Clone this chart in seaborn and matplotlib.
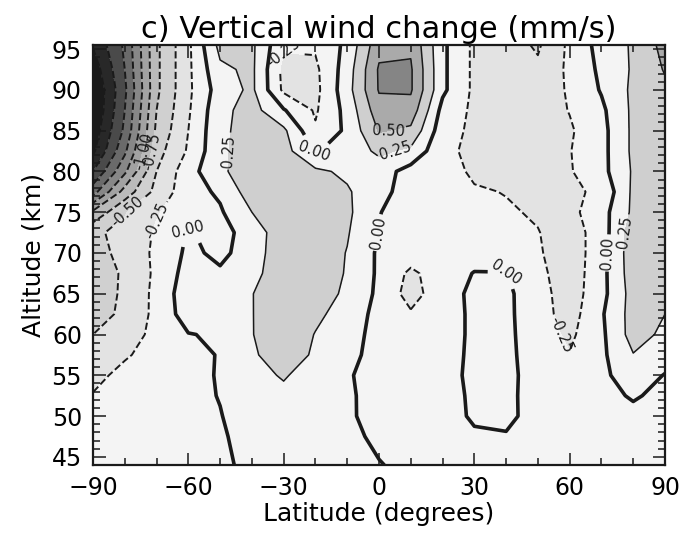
import numpy as np
import pandas as pd
import matplotlib
matplotlib.use("Agg")
import matplotlib.pyplot as plt
import seaborn as sns
from matplotlib.ticker import MultipleLocator

# grid: latitude every 10 deg, altitude rows (km)
lats = list(range(-90, 91, 10))
alts = [44, 47.5, 50, 52.5, 55, 57.5, 60, 62.5, 65, 67.5, 70,
        72.5, 75, 77.5, 80, 82.5, 85, 87.5, 90, 92.5, 96]

# vertical wind change (mm/s), one list per altitude row, lat -90 .. 90
w440 = [-0.12, -0.10, -0.08, -0.05, -0.04, 0.05, 0.10, 0.08, 0.05, 0.01, -0.05, -0.04, -0.05, -0.04, -0.03, -0.04, -0.04, -0.05, -0.06]
w475 = [-0.15, -0.12, -0.09, -0.06, -0.03, 0.09, 0.13, 0.09, 0.05, -0.04, -0.07, -0.05, -0.02, -0.01, -0.04, -0.06, -0.05, -0.05, -0.07]
w500 = [-0.18, -0.15, -0.10, -0.06, -0.01, 0.12, 0.15, 0.10, 0.05, -0.12, -0.08, -0.06, 0.02, 0.03, -0.05, -0.08, -0.06, -0.05, -0.08]
w525 = [-0.24, -0.18, -0.12, -0.07, 0.01, 0.15, 0.20, 0.12, 0.04, -0.10, -0.08, -0.07, 0.03, 0.04, -0.07, -0.12, -0.06, 0.02, -0.05]
w550 = [-0.30, -0.20, -0.15, -0.08, 0.02, 0.18, 0.27, 0.15, 0.02, -0.08, -0.08, -0.08, 0.05, 0.05, -0.08, -0.15, -0.05, 0.12, -0.01]
w575 = [-0.40, -0.27, -0.18, -0.05, 0.01, 0.22, 0.36, 0.22, 0.08, -0.10, -0.12, -0.10, 0.05, 0.05, -0.10, -0.24, -0.05, 0.24, 0.10]
w600 = [-0.50, -0.42, -0.15, -0.01, 0.03, 0.24, 0.42, 0.24, 0.12, -0.10, -0.15, -0.12, 0.05, 0.05, -0.12, -0.30, -0.05, 0.35, 0.20]
w625 = [-0.58, -0.46, -0.18, 0.12, 0.05, 0.24, 0.44, 0.30, 0.15, -0.08, -0.22, -0.12, 0.05, 0.05, -0.14, -0.36, -0.03, 0.35, 0.25]
w650 = [-0.60, -0.47, -0.18, 0.15, 0.08, 0.24, 0.45, 0.38, 0.20, -0.05, -0.35, -0.10, 0.05, 0.05, -0.15, -0.38, -0.08, 0.35, 0.30]
w675 = [-0.62, -0.47, -0.20, 0.10, 0.03, 0.15, 0.45, 0.40, 0.23, -0.04, -0.30, -0.12, 0.01, 0.01, -0.18, -0.40, -0.08, 0.38, 0.35]
w700 = [-0.60, -0.42, -0.20, 0.05, -0.05, 0.10, 0.45, 0.40, 0.24, -0.04, -0.12, -0.15, -0.10, -0.15, -0.22, -0.40, -0.10, 0.40, 0.40]
w725 = [-0.55, -0.42, -0.22, 0.02, -0.08, 0.10, 0.42, 0.38, 0.27, -0.01, -0.12, -0.15, -0.15, -0.18, -0.24, -0.38, -0.12, 0.38, 0.38]
w750 = [-0.95, -0.52, -0.27, -0.12, -0.03, 0.25, 0.40, 0.38, 0.30, 0.01, -0.12, -0.15, -0.20, -0.22, -0.28, -0.32, -0.10, 0.30, 0.35]
w775 = [-1.60, -0.90, -0.42, -0.10, 0.04, 0.38, 0.40, 0.35, 0.28, 0.07, -0.10, -0.13, -0.22, -0.26, -0.30, -0.30, -0.20, 0.30, 0.42]
w800 = [-2.00, -1.30, -0.50, -0.10, 0.20, 0.40, 0.38, 0.30, 0.20, 0.12, -0.10, -0.12, -0.30, -0.33, -0.30, -0.27, -0.08, 0.28, 0.45]
w825 = [-2.30, -1.55, -0.60, -0.22, 0.20, 0.38, 0.35, -0.02, 0.10, 0.30, 0.20, -0.20, -0.30, -0.34, -0.32, -0.26, -0.08, 0.30, 0.45]
w850 = [-2.40, -1.70, -0.70, -0.25, 0.20, 0.35, 0.30, -0.22, 0.05, 0.52, 0.45, -0.15, -0.30, -0.35, -0.35, -0.28, -0.08, 0.30, 0.45]
w875 = [-2.50, -1.75, -0.75, -0.28, 0.18, 0.35, 0.02, -0.28, 0.08, 0.65, 0.65, -0.08, -0.30, -0.35, -0.38, -0.24, -0.05, 0.30, 0.45]
w900 = [-2.50, -1.80, -0.80, -0.30, 0.12, 0.30, -0.30, -0.32, 0.15, 0.77, 0.78, 0.05, -0.30, -0.35, -0.40, -0.22, 0.02, 0.30, 0.45]
w925 = [-2.40, -1.75, -0.80, -0.30, 0.20, 0.30, -0.32, -0.30, 0.12, 0.78, 0.78, 0.05, -0.30, -0.38, -0.45, -0.20, 0.05, 0.28, 0.52]
w960 = [-2.20, -1.70, -0.80, -0.30, 0.35, 0.30, -0.20, -0.20, 0.05, 0.65, 0.70, 0.05, -0.30, -0.40, -0.55, -0.20, 0.10, 0.28, 0.60]

rows = [w440, w475, w500, w525, w550, w575, w600, w625, w650, w675, w700,
        w725, w750, w775, w800, w825, w850, w875, w900, w925, w960]
field = pd.DataFrame(rows, index=alts, columns=lats)

sns.set_theme(style="ticks")
plt.rcParams['font.family'] = ['DejaVu Sans']
plt.rcParams['text.color'] = 'black'
plt.rcParams['axes.labelcolor'] = 'black'
plt.rcParams['xtick.color'] = 'black'
plt.rcParams['ytick.color'] = 'black'

fig = plt.figure(figsize=(6.8, 5.4), dpi=100)
ax = fig.add_axes([93 / 680, 75 / 540, 572 / 680, 420 / 540])

levels = np.arange(-2.75, 1.26, 0.25)
mids = (levels[:-1] + levels[1:]) / 2
# shading gets darker with magnitude, positives darken faster
shades = []
for m in mids:
    k = int(abs(m) // 0.25)
    if m > 0:
        g = 0.955 - 0.145 * k
    else:
        g = 0.955 - 0.06 * k - 0.005 * k * k
    shades.append(str(round(max(0.1, g), 3)))

X, Y = field.columns.values, field.index.values
Z = field.values
ax.contourf(X, Y, Z, levels=levels, colors=shades)

neg = [l for l in levels if l < -0.01]
pos = [l for l in levels if l > 0.01]
cn = ax.contour(X, Y, Z, levels=neg, colors='k', linewidths=1.4, linestyles='--')
cp = ax.contour(X, Y, Z, levels=pos, colors='k', linewidths=1.1, linestyles='-')
cz = ax.contour(X, Y, Z, levels=[0.0], colors='k', linewidths=2.6, linestyles='-')

lab_kw = dict(fmt='%.2f', fontsize=10.5, inline=True, inline_spacing=2)
ax.clabel(cn, levels=[-1.0, -0.75, -0.5, -0.25], **lab_kw)
ax.clabel(cp, levels=[0.25, 0.5, 0.75], **lab_kw)
ax.clabel(cz, **lab_kw)

ax.set_xlim(-90, 90)
ax.set_ylim(44, 95.5)
ax.set_xticks([-90, -60, -30, 0, 30, 60, 90])
ax.set_xticklabels(['\u221290', '\u221260', '\u221230', '0', '30', '60', '90'])
ax.xaxis.set_minor_locator(MultipleLocator(10))
ax.yaxis.set_major_locator(MultipleLocator(5))
ax.yaxis.set_minor_locator(MultipleLocator(1))

ax.set_axisbelow(False)
ax.tick_params(which='both', direction='in', top=True, right=True, color='k', width=1.1)
ax.tick_params(which='major', length=9, labelsize=17, pad=8)
ax.tick_params(which='minor', length=5)
for s in ax.spines.values():
    s.set_linewidth(1.6)
    s.set_color('k')
    s.set_zorder(5)

ax.set_xlabel('Latitude (degrees)', fontsize=18, labelpad=1)
ax.set_ylabel('Altitude (km)', fontsize=18, labelpad=4)
ax.set_title('c) Vertical wind change (mm/s)', fontsize=22, pad=5)

fig.savefig('out.png', dpi=100, facecolor='white')
